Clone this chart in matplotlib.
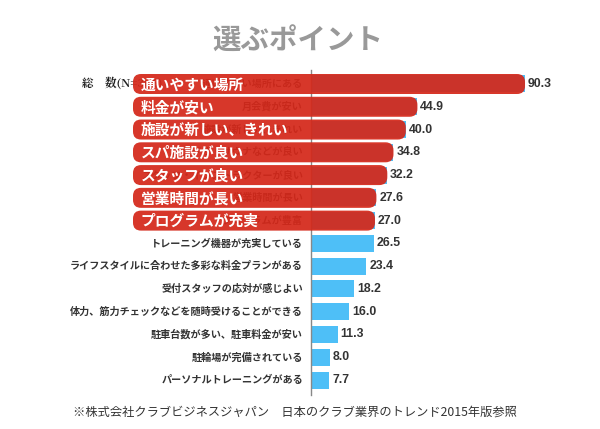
import matplotlib
matplotlib.use("Agg")
import matplotlib.pyplot as plt
from matplotlib.patches import FancyBboxPatch

plt.rcParams['font.family'] = ['Noto Sans CJK JP', 'DejaVu Sans']

# data
labels = ['通いやすい場所にある', '月会費が安い', '施設が新しい、きれい', 'スタジオ・サウナなどが良い',
          'スタッフ・インストラクターが良い', '営業時間が長い', 'プログラムが豊富',
          'トレーニング機器が充実している', 'ライフスタイルに合わせた多彩な料金プランがある',
          '受付スタッフの応対が感じよい', '体力、筋力チェックなどを随時受けることができる',
          '駐車台数が多い、駐車料金が安い', '駐輪場が完備されている', 'パーソナルトレーニングがある']
values = [90.3, 44.9, 40.0, 34.8, 32.2, 27.6, 27.0, 26.5, 23.4, 18.2, 16.0, 11.3, 8.0, 7.7]
highlight = ['通いやすい場所', '料金が安い', '施設が新しい、きれい', 'スパ施設が良い',
             'スタッフが良い', '営業時間が長い', 'プログラムが充実']

W, H = 600, 429
fig = plt.figure(figsize=(W / 100, H / 100), dpi=100)
px_per_x = 2.37
ax_left, ax_right = 311, 595
ax_top, ax_bot = 70, 395
ax = fig.add_axes([ax_left / W, 1 - ax_bot / H, (ax_right - ax_left) / W, (ax_bot - ax_top) / H])
row_px = 22.77
ax.set_xlim(0, (ax_right - ax_left) / px_per_x)
ax.set_ylim(13 + (ax_bot - 380) / row_px, -(84 - ax_top) / row_px)

blue = '#4ebff7'
red = '#d4281a'
ys = list(range(len(values)))
ax.barh(ys, values, height=17 / row_px, color=blue, zorder=2)

for s in ['top', 'right', 'bottom']:
    ax.spines[s].set_visible(False)
ax.spines['left'].set_color('#888888')
ax.spines['left'].set_linewidth(1.0)
ax.spines['left'].set_zorder(3)
ax.set_xticks([])
ax.set_yticks([])

# original labels (the first seven sit under the red overlay)
for y, lab in zip(ys, labels):
    ax.text(-3.4, y, lab, ha='right', va='center', fontsize=7.3, fontweight='bold',
            color='#333333', zorder=1)
ax.text(-96.5, 0, '総　数(N=306)', ha='left', va='center', fontsize=8.3, fontweight='bold',
        color='#222222', family=['Noto Serif CJK JP', 'Noto Sans CJK JP', 'DejaVu Sans'], zorder=1)

# value labels
for y, v in zip(ys, values):
    ax.text(v + 1.2, y, f'{v:.1f}', ha='left', va='center', fontsize=8.8, fontweight='bold',
            color='#333333', family=['Liberation Sans', 'DejaVu Sans'], zorder=6)

# red overlay
x0 = (133 - ax_left) / px_per_x
r_px = 8
aspect = px_per_x / row_px
for y, v, lab in zip(ys, values, highlight):
    h = 20 / row_px
    p = FancyBboxPatch((x0, y - h / 2), v - x0, h,
                       boxstyle=f'round,pad=0,rounding_size={r_px / px_per_x}',
                       mutation_aspect=aspect, facecolor=red, edgecolor='none',
                       alpha=0.93, clip_on=False, zorder=4)
    ax.add_patch(p)
    ax.text((141 - ax_left) / px_per_x, y + 0.02, lab, ha='left', va='center', fontsize=10.6,
            fontweight='bold', color='white', zorder=5)

fig.text(298 / W, 1 - 42 / H, '選ぶポイント', ha='center', va='center', fontsize=20.5,
         fontweight='bold', color='#999999')
fig.text(73 / W, 1 - 412 / H, '※株式会社クラブビジネスジャパン　日本のクラブ業界のトレンド2015年版参照',
         ha='left', va='center', fontsize=8.8, color='#333333')

fig.savefig('out.png', dpi=100, facecolor='white')
